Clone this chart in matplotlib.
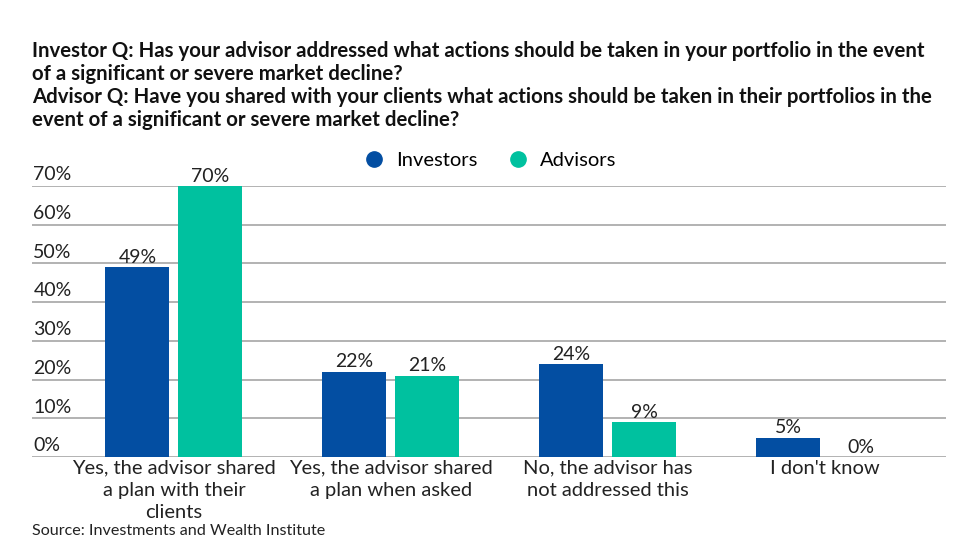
import numpy as np
import matplotlib
import matplotlib.pyplot as plt
from matplotlib.lines import Line2D

matplotlib.rcParams['font.family'] = ['Lato', 'DejaVu Sans']

# data
categories = ['Yes, the advisor shared\na plan with their\nclients',
              'Yes, the advisor shared\na plan when asked',
              'No, the advisor has\nnot addressed this',
              "I don't know"]
investors = [49, 22, 24, 5]
advisors = [70, 21, 9, 0]
yticks = [0, 10, 20, 30, 40, 50, 60, 70]

blue = '#034EA2'
teal = '#00C19F'

fig = plt.figure(figsize=(9.78, 5.5), dpi=100)
ax = fig.add_axes([32/978, 1-457/550, 914/978, (457-186)/550])

x = np.arange(len(categories))
w = 0.295
off = 0.168
b1 = ax.bar(x - off, investors, w, color=blue, zorder=3)
b2 = ax.bar(x + off, advisors, w, color=teal, zorder=3)

for bars, vals in [(b1, investors), (b2, advisors)]:
    for b, v in zip(bars, vals):
        ax.annotate(f'{v}%', (b.get_x() + b.get_width()/2, v), xytext=(0, 1),
                    textcoords='offset points', ha='center', va='bottom',
                    fontsize=14, color='#222222', zorder=4)

ax.set_xlim(-0.654, 3.558)
ax.set_ylim(0, 70)
for t in yticks:
    ax.axhline(t, color='#A6A6A6', lw=1.2, zorder=1)
    ax.annotate(f'{t}%', (0, t), xycoords=('axes fraction', 'data'),
                xytext=(1, 2), textcoords='offset points', ha='left', va='bottom',
                fontsize=14, color='#222222')

ax.set_xticks(x)
ax.set_xticklabels(categories, fontsize=14.5, color='#222222', linespacing=1.36)
ax.tick_params(axis='x', length=0, pad=2)
ax.set_yticks([])
for s in ax.spines.values():
    s.set_visible(False)

handles = [Line2D([], [], marker='o', ls='', ms=11, color=blue),
           Line2D([], [], marker='o', ls='', ms=11, color=teal)]
ax.legend(handles, ['Investors', 'Advisors'], loc='lower center',
          bbox_to_anchor=(0.496, 1.012), ncol=2, frameon=False, fontsize=14.5,
          handletextpad=0.1, columnspacing=1.0, borderaxespad=0.3)

title1 = ('Investor Q: Has your advisor addressed what actions should be taken in your portfolio in the event\n'
          'of a significant or severe market decline?\n'
          'Advisor Q: Have you shared with your clients what actions should be taken in their portfolios in the\n'
          'event of a significant or severe market decline?')
fig.text(32/978, 1-41/550, title1, ha='left', va='top', fontsize=14.7,
         fontweight='bold', color='#111111', linespacing=1.19)

fig.text(32/978, 1-531/550, 'Source: Investments and Wealth Institute', ha='left',
         va='center', fontsize=11.6, color='#222222')

fig.savefig('out.png', dpi=100)
